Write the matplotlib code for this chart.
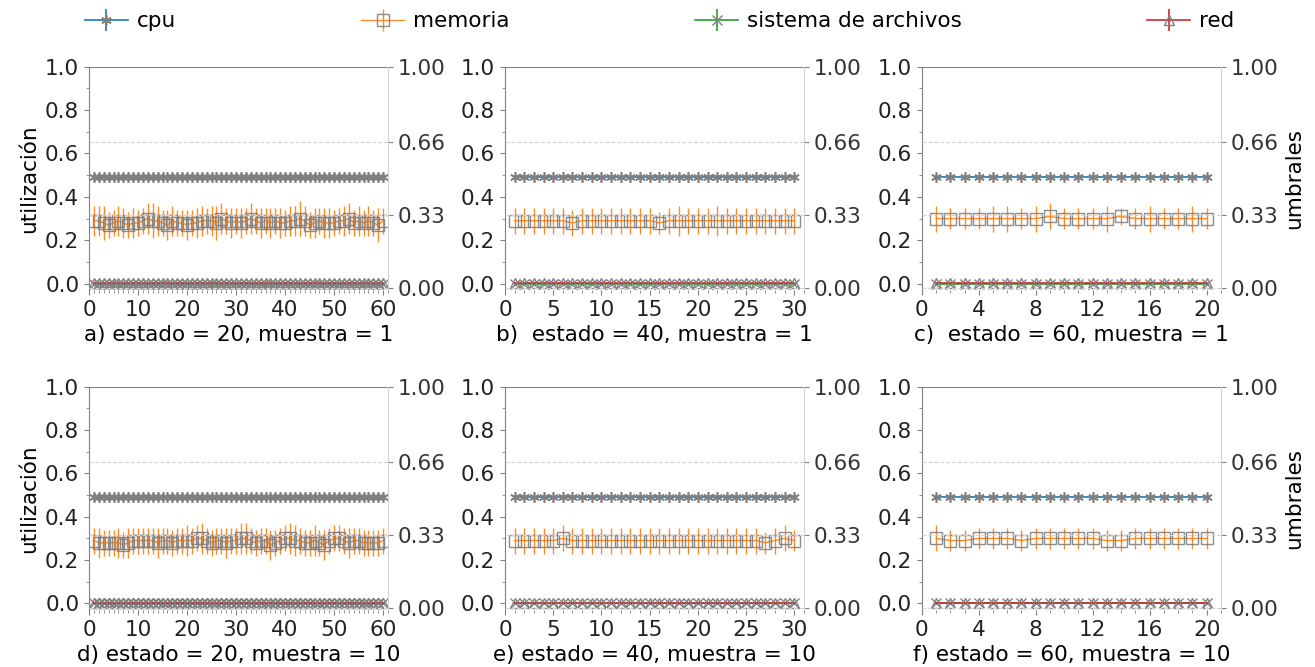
import matplotlib
matplotlib.use('Agg')
import matplotlib.pyplot as plt
from matplotlib.ticker import MultipleLocator
import numpy as np

# valores
cpu_nivel = 0.49
fs_nivel = 0.0
red_nivel = 0.002

mem_a = [0.29, 0.29, 0.28, 0.27, 0.28, 0.29, 0.28, 0.27, 0.28, 0.28,
         0.29, 0.30, 0.29, 0.29, 0.28, 0.27, 0.29, 0.28, 0.28, 0.27,
         0.28, 0.28, 0.29, 0.29, 0.29, 0.28, 0.30, 0.29, 0.28, 0.29,
         0.28, 0.29, 0.30, 0.29, 0.28, 0.29, 0.28, 0.29, 0.28, 0.28,
         0.29, 0.29, 0.30, 0.29, 0.27, 0.28, 0.29, 0.28, 0.28, 0.28,
         0.29, 0.29, 0.30, 0.28, 0.29, 0.28, 0.29, 0.28, 0.27, 0.29]
err_a = [0.07, 0.07, 0.08, 0.06, 0.06, 0.07, 0.07, 0.06, 0.07, 0.06,
         0.06, 0.07, 0.08, 0.07, 0.06, 0.07, 0.07, 0.06, 0.06, 0.07,
         0.06, 0.07, 0.07, 0.06, 0.07, 0.08, 0.07, 0.06, 0.07, 0.06,
         0.07, 0.06, 0.07, 0.06, 0.07, 0.06, 0.07, 0.06, 0.07, 0.06,
         0.07, 0.07, 0.08, 0.07, 0.06, 0.07, 0.06, 0.07, 0.07, 0.06,
         0.06, 0.07, 0.07, 0.06, 0.07, 0.06, 0.07, 0.06, 0.08, 0.06]
mem_b = [0.29, 0.29, 0.29, 0.29, 0.29, 0.29, 0.28, 0.29, 0.29, 0.29,
         0.29, 0.29, 0.29, 0.29, 0.29, 0.28, 0.29, 0.29, 0.29, 0.29,
         0.29, 0.29, 0.29, 0.29, 0.29, 0.29, 0.29, 0.29, 0.29, 0.29]
err_b = [0.06, 0.06, 0.06, 0.06, 0.06, 0.06, 0.06, 0.06, 0.06, 0.06,
         0.06, 0.06, 0.06, 0.06, 0.06, 0.05, 0.06, 0.07, 0.06, 0.06,
         0.06, 0.07, 0.06, 0.06, 0.06, 0.06, 0.06, 0.06, 0.06, 0.06]
mem_c = [0.30, 0.30, 0.30, 0.30, 0.30, 0.30, 0.30, 0.30, 0.31, 0.30,
         0.30, 0.30, 0.30, 0.31, 0.30, 0.30, 0.30, 0.30, 0.30, 0.30]
err_c = [0.06, 0.05, 0.05, 0.05, 0.06, 0.06, 0.05, 0.06, 0.06, 0.05,
         0.05, 0.05, 0.06, 0.04, 0.05, 0.06, 0.05, 0.05, 0.06, 0.05]
mem_d = [0.29, 0.28, 0.28, 0.28, 0.28, 0.28, 0.27, 0.28, 0.29, 0.29,
         0.29, 0.29, 0.29, 0.28, 0.29, 0.29, 0.28, 0.29, 0.29, 0.29,
         0.29, 0.30, 0.30, 0.29, 0.28, 0.29, 0.29, 0.28, 0.29, 0.29,
         0.30, 0.30, 0.29, 0.28, 0.29, 0.29, 0.27, 0.28, 0.29, 0.30,
         0.30, 0.29, 0.29, 0.28, 0.28, 0.29, 0.28, 0.27, 0.29, 0.30,
         0.30, 0.29, 0.28, 0.29, 0.29, 0.28, 0.28, 0.28, 0.28, 0.29]
err_d = [0.06, 0.07, 0.06, 0.06, 0.06, 0.07, 0.06, 0.07, 0.06, 0.06,
         0.06, 0.06, 0.06, 0.07, 0.06, 0.06, 0.06, 0.06, 0.06, 0.07,
         0.06, 0.06, 0.07, 0.06, 0.06, 0.06, 0.06, 0.07, 0.06, 0.06,
         0.07, 0.07, 0.06, 0.06, 0.06, 0.06, 0.07, 0.06, 0.06, 0.06,
         0.07, 0.07, 0.06, 0.06, 0.06, 0.07, 0.06, 0.07, 0.06, 0.06,
         0.06, 0.06, 0.07, 0.06, 0.06, 0.06, 0.06, 0.06, 0.06, 0.06]
mem_e = [0.29, 0.29, 0.29, 0.29, 0.29, 0.30, 0.29, 0.29, 0.29, 0.29,
         0.29, 0.29, 0.29, 0.29, 0.29, 0.29, 0.29, 0.29, 0.29, 0.29,
         0.29, 0.29, 0.29, 0.29, 0.29, 0.29, 0.28, 0.29, 0.30, 0.29]
err_e = [0.06, 0.06, 0.06, 0.06, 0.06, 0.06, 0.06, 0.06, 0.06, 0.06,
         0.06, 0.06, 0.06, 0.06, 0.06, 0.06, 0.06, 0.06, 0.06, 0.06,
         0.06, 0.06, 0.06, 0.06, 0.06, 0.06, 0.05, 0.06, 0.06, 0.05]
mem_f = [0.30, 0.29, 0.29, 0.30, 0.30, 0.30, 0.29, 0.30, 0.30, 0.30,
         0.30, 0.30, 0.29, 0.29, 0.30, 0.30, 0.30, 0.30, 0.30, 0.30]
err_f = [0.06, 0.05, 0.05, 0.05, 0.05, 0.05, 0.05, 0.05, 0.05, 0.05,
         0.05, 0.05, 0.05, 0.05, 0.05, 0.05, 0.05, 0.05, 0.05, 0.05]

memorias = [mem_a, mem_b, mem_c, mem_d, mem_e, mem_f]
errores = [err_a, err_b, err_c, err_d, err_e, err_f]
titulos = ["a) estado = 20, muestra = 1", "b)  estado = 40, muestra = 1",
           "c)  estado = 60, muestra = 1", "d) estado = 20, muestra = 10",
           "e) estado = 40, muestra = 10", "f) estado = 60, muestra = 10"]
paso_x = [10, 5, 4, 10, 5, 4]
umbrales = [0.0, 0.33, 0.66, 1.0]
etiquetas_umbral = ["0.00", "0.33", "0.66", "1.00"]

plt.rcParams['font.size'] = 15.5
fig = plt.figure(figsize=(13.15, 6.67), dpi=100)

lefts = [0.0677, 0.384, 0.701]
bottoms = [0.565, 0.0855]
W, H = 0.2274, 0.335

asterisco = (6, 2, 0)

handles = None
for i in range(6):
    fila, col = i // 3, i % 3
    ax = fig.add_axes([lefts[col], bottoms[fila], W, H])
    mem = memorias[i]
    n = len(mem)
    x = np.arange(1, n + 1)
    cpu = [cpu_nivel] * n
    fs = [fs_nivel] * n
    red = [red_nivel] * n

    h1 = ax.errorbar(x, cpu, yerr=0, color='tab:blue', ecolor='tab:blue', lw=1.2,
                     marker=asterisco, ms=7.5, mfc='none', mec='gray', mew=1.2, label='cpu')
    h2 = ax.errorbar(x, mem, yerr=errores[i], color='tab:orange', ecolor='tab:orange',
                     elinewidth=1, lw=1, marker='s', ms=9, mfc='none', mec='gray',
                     alpha=0.9, label='memoria')
    h3 = ax.errorbar(x, fs, yerr=0, color='tab:green', ecolor='tab:green', lw=1.2,
                     marker='x', ms=7, mfc='none', mec='gray', label='sistema de archivos')
    h4 = ax.errorbar(x, red, yerr=0, color='tab:red', ecolor='tab:red', lw=1.2,
                     marker='^', ms=7, mfc='none', mec='gray', label='red')
    handles = [h1, h2, h3, h4]

    ax.set_xlim(0, n + 1)
    ax.set_ylim(-0.03, 1.0)
    ax.xaxis.set_major_locator(MultipleLocator(paso_x[i]))
    ax.xaxis.set_minor_locator(MultipleLocator(1))
    ax.yaxis.set_major_locator(MultipleLocator(0.2))
    ax.yaxis.set_minor_locator(MultipleLocator(0.1))
    ax.spines['top'].set_visible(False)
    ax.spines['bottom'].set_visible(False)
    ax.spines['right'].set_visible(False)
    ax.spines['left'].set_color('gray')
    ax.tick_params(which='both', color='gray')
    ax.tick_params(labelcolor='#222222')
    ax.set_xlabel(titulos[i], labelpad=4)
    if col == 0:
        ax.set_ylabel('utilización')

    ax2 = ax.twinx()
    ax2.set_ylim(-0.008, 1.0)
    for u in umbrales:
        ax2.axhline(u, color='gray' if u == 1.0 else 'lightgray', lw=0.8,
                    ls='-' if u == 1.0 else '--')
    ax2.set_yticks(umbrales)
    ax2.set_yticklabels(etiquetas_umbral)
    ax2.spines['top'].set_visible(False)
    ax2.spines['bottom'].set_visible(False)
    ax2.spines['left'].set_visible(False)
    ax2.spines['right'].set_color('lightgray')
    ax2.tick_params(color='gray', labelcolor='#333333')
    if col == 2:
        ax2.set_ylabel('umbrales')

fig.legend(handles, ['cpu', 'memoria', 'sistema de archivos', 'red'],
           loc='lower left', bbox_to_anchor=(0.058, 0.94, 0.887, 0.05),
           ncol=4, mode='expand', frameon=False, borderaxespad=0,
           handlelength=2, handletextpad=0.4)

fig.savefig('out.png', dpi=100)
